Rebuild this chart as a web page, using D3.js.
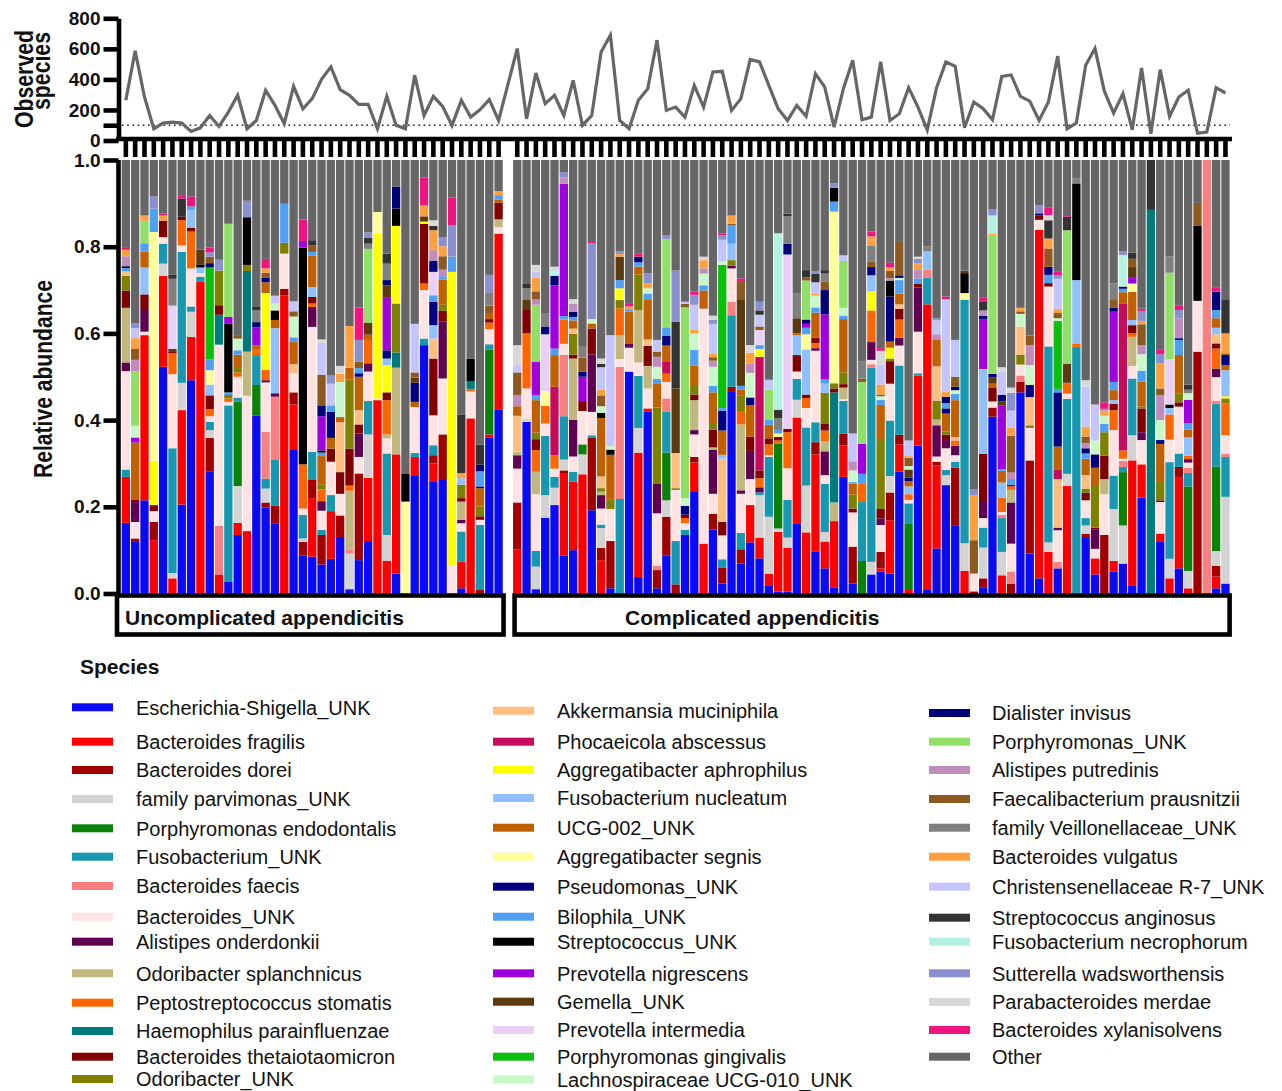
<!DOCTYPE html>
<html>
<head>
<meta charset="utf-8">
<script src="https://cdn.jsdelivr.net/npm/d3@7"></script>
<style>
  body { margin: 0; background: #fff; }
  text { font-family: "Liberation Sans", Arial, sans-serif; fill: #111; }
</style>
</head>
<body>
<svg id="chart" width="1282" height="1091"></svg>
<script>
// ---------------- DATA ----------------
const species = [
  "Escherichia-Shigella_UNK","Bacteroides fragilis","Bacteroides dorei","family parvimonas_UNK",
  "Porphyromonas endodontalis","Fusobacterium_UNK","Bacteroides faecis","Bacteroides_UNK",
  "Alistipes onderdonkii","Odoribacter splanchnicus","Peptostreptococcus stomatis","Haemophilus parainfluenzae",
  "Bacteroides thetaiotaomicron","Odoribacter_UNK","Akkermansia muciniphila","Phocaeicola abscessus",
  "Aggregatibacter aphrophilus","Fusobacterium nucleatum","UCG-002_UNK","Aggregatibacter segnis",
  "Pseudomonas_UNK","Bilophila_UNK","Streptococcus_UNK","Prevotella nigrescens",
  "Gemella_UNK","Prevotella intermedia","Porphyromonas gingivalis","Lachnospiraceae UCG-010_UNK",
  "Dialister invisus","Porphyromonas_UNK","Alistipes putredinis","Faecalibacterium prausnitzii",
  "family Veillonellaceae_UNK","Bacteroides vulgatus","Christensenellaceae R-7_UNK","Streptococcus anginosus",
  "Fusobacterium necrophorum","Sutterella wadsworthensis","Parabacteroides merdae","Bacteroides xylanisolvens",
  "Other"
];

const groupNames = ["Uncomplicated appendicitis", "Complicated appendicitis"];

const observedTicks = [0, 200, 400, 600, 800];
const abundanceTicks = [0, 0.2, 0.4, 0.6, 0.8, 1.0];
const detectionLine = 100;

// Observed species per sample
const observedUncomplicated = [263,587,285,77,114,120,114,59,83,164,92,186,296,77,131,329,230,110,355,208,
  274,401,482,333,296,237,237,77,289,99,77,427,164,289,223,99,263,153,201,267,131];
const observedComplicated = [602,142,442,241,296,164,394,99,164,580,690,131,77,263,339,657,197,219,153,361,
  219,449,453,197,274,530,515,361,208,131,230,158,438,350,88,339,526,136,153,515,
  131,175,346,219,70,346,515,486,83,252,208,136,420,429,289,258,131,252,552,77,
  114,493,602,324,180,307,70,475,44,464,158,285,329,48,55,346,311];

// Relative abundance per sample: {speciesIndex: value}; "Other" is the remainder to 1
const abundanceUncomplicated = [
  {0:.163,1:.106,5:.017,7:.227,8:.02,9:.126,12:.039,13:.035,14:.01,21:.008,22:.004,30:.023,33:.015,39:.006},
  {0:.119,2:.008,7:.038,8:.046,12:.006,18:.131,23:.012,27:.027,29:.125,30:.027,31:.025,33:.025,34:.023,37:.012},
  {0:.215,1:.381,7:.008,8:.05,12:.036,17:.062,18:.037,21:.019,29:.052,33:.012},
  {1:.123,2:.042,7:.025,12:.014,16:.102,19:.528,21:.054,37:.028},
  {0:.523,1:.21,3:.028,5:.046,7:.015,12:.038,33:.012,39:.004},
  {1:.035,3:.012,5:.288,7:.171,10:.048,12:.005,24:.005,25:.1,32:.062,35:.01},
  {0:.205,1:.218,3:.063,5:.302,7:.015,10:.058,12:.008,35:.042,39:.008},
  {0:.492,1:.1,3:.058,5:.012,7:.088,10:.085,12:.009,17:.041,21:.008,39:.023},
  {1:.719,5:.012,7:.008,17:.013,22:.006,24:.035},
  {0:.282,2:.077,3:.018,5:.019,7:.013,10:.016,12:.032,17:.025,19:.033,21:.025,26:.212,28:.01,31:.015,37:.01,39:.011},
  {1:.044,6:.112,7:.418,11:.069,12:.022,13:.08,37:.025},
  {0:.028,5:.406,7:.008,10:.008,13:.008,21:.006,22:.159,23:.015,29:.215},
  {0:.135,1:.028,3:.085,4:.195,5:.009,7:.048,10:.01,13:.01,18:.031,21:.01,27:.027,31:.008},
  {1:.144,7:.312,9:.102,11:.186,13:.014,22:.11,37:.038},
  {0:.41,4:.071,5:.069,10:.012,18:.01,23:.042,28:.012,32:.027,35:.008},
  {0:.198,2:.012,3:.032,5:.023,6:.108,7:.114,8:.005,10:.024,16:.177,18:.025,20:.01,31:.012,33:.01,39:.022},
  {0:.162,2:.041,5:.105,6:.146,8:.008,17:.15,18:.019,22:.022,27:.017,34:.017},
  {1:.688,2:.015,7:.081,13:.025,21:.09},
  {0:.331,1:.105,2:.028,7:.044,14:.021,18:.051,21:.011,27:.048,31:.012,34:.023},
  {0:.088,2:.031,3:.008,5:.054,7:.015,10:.102,22:.5,23:.015,39:.05},
  {0:.085,1:.135,2:.042,5:.065,7:.288,8:.046,10:.008,12:.015,17:.023,18:.073,21:.008,31:.015,35:.012},
  {0:.067,2:.068,5:.012,7:.044,8:.022,10:.027,13:.012,18:.065,21:.008,22:.005,23:.079,28:.025,31:.071,34:.073,38:.008},
  {0:.08,1:.11,5:.037,7:.077,12:.03,18:.025,20:.06,21:.015,34:.05,37:.02},
  {0:.128,2:.052,7:.05,12:.05,14:.115,18:.012,27:.081,33:.019,38:.018},
  {0:.01,3:.082,6:.01,9:.135,10:.012,12:.085,13:.16,18:.027,33:.096},
  {0:.077,2:.2,7:.038,8:.054,12:.021,14:.033,18:.077,20:.008,21:.012,31:.015,37:.05,39:.075},
  {0:.121,1:.146,3:.1,5:.077,7:.068,8:.019,10:.054,18:.012,24:.027,29:.171,32:.012,35:.013,37:.013},
  {1:.446,7:.004,16:.38,19:.05},
  {1:.075,3:.06,5:.188,7:.035,9:.009,10:.079,12:.018,16:.063,17:.015,20:.019,23:.121,24:.029,28:.012,32:.038,35:.023},
  {0:.046,1:.275,9:.2,11:.035,13:.113,16:.179,22:.04,28:.05},
  {19:.212,22:.065},
  {0:.273,1:.042,5:.009,7:.106,18:.012,20:.044,24:.012,31:.012,34:.112},
  {0:.573,5:.015,7:.112,10:.015,12:.138,16:.005,24:.012,33:.025,39:.065},
  {0:.259,1:.041,2:.019,5:.023,7:.069,12:.131,14:.046,17:.031,20:.054,21:.015,25:.054,28:.025,30:.025,33:.046,35:.01,38:.013},
  {0:.264,2:.103,7:.129,8:.131,12:.025,13:.014,18:.058,21:.008,30:.015,31:.031,33:.023,37:.021},
  {7:.065,16:.677,21:.035,37:.073,39:.063},
  {0:.012,1:.062,5:.069,7:.019,8:.008,9:.042,12:.008,13:.031,17:.015,33:.012,35:.135},
  {1:.404,7:.062,10:.006,11:.017,22:.053},
  {2:.008,5:.15,7:.012,12:.008,13:.023,18:.042,20:.004,21:.035,28:.015,35:.046},
  {0:.359,1:.008,4:.196,5:.012,7:.035,10:.015,12:.008,18:.012,31:.019,32:.031,37:.04},
  {0:.425,1:.405,7:.015,9:.018,12:.038,18:.008,21:.01,33:.009}
];

const abundanceComplicated = [
  {1:.102,2:.108,7:.078,8:.031,9:.008,14:.083,18:.022,30:.026,31:.052,34:.017,38:.046},
  {0:.396,3:.008,7:.069,10:.127,12:.054,24:.023,32:.027,35:.01},
  {0:.01,3:.052,5:.036,7:.131,9:.052,10:.05,12:.025,13:.015,18:.075,21:.012,23:.077,29:.131,30:.012,31:.019,33:.031,34:.015,38:.015},
  {0:.175,3:.052,5:.137,7:.028,10:.041,19:.034,25:.131,28:.018,32:.031},
  {0:.204,3:.04,5:.025,7:.019,10:.031,15:.158,18:.073,21:.015,23:.146,28:.022,36:.013,38:.008},
  {0:.088,1:.188,2:.008,3:.025,5:.1,6:.142,7:.025,10:.056,21:.008,23:.305,30:.015,37:.012},
  {0:.1,1:.158,5:.023,7:.035,8:.085,9:.141,12:.009,13:.048,14:.012,18:.019,21:.008,28:.012,30:.019,38:.01},
  {1:.275,3:.046,4:.023,7:.077,12:.023,23:.056,28:.012,31:.032,32:.025},
  {0:.192,2:.167,5:.006,7:.054,8:.132,12:.06,18:.012,27:.01,37:.175,39:.005},
  {1:.077,2:.028,3:.046,5:.008,7:.037,8:.031,9:.008,13:.008,14:.027,18:.135,22:.012,27:.015,31:.025,33:.013,34:.052,35:.008,38:.012},
  {0:.012,2:.109,7:.074,13:.021,18:.104,22:.012,27:.008,34:.256},
  {5:.218,6:.305,7:.018,9:.055,10:.062,13:.019,16:.027,21:.019,24:.054,33:.006,37:.006},
  {0:.512,7:.055,8:.01,18:.073,21:.006,33:.006,39:.006},
  {0:.038,1:.287,3:.057,5:.12,7:.031,9:.121,13:.082,18:.018,21:.01,28:.013,39:.008},
  {0:.419,1:.008,7:.046,9:.052,12:.046,14:.015,18:.091,21:.015,27:.012,33:.012,37:.023},
  {0:.012,2:.042,6:.01,7:.121,8:.069,13:.175,18:.056,21:.01,27:.028,30:.023,31:.012,34:.027},
  {0:.087,2:.09,3:.038,4:.11,5:.094,6:.031,7:.038,10:.019,15:.027,18:.038,20:.023,21:.019,29:.204,37:.009},
  {2:.021,5:.1,7:.118,13:.004,14:.081,24:.149,35:.154,37:.118},
  {0:.135,5:.012,7:.015,10:.012,12:.008,20:.02,27:.018,29:.44,31:.008,34:.005},
  {0:.236,1:.066,2:.013,7:.052,8:.01,9:.069,12:.013,13:.022,18:.045,21:.036,27:.038,33:.008,34:.058,37:.023,39:.008},
  {1:.115,7:.542,18:.042,21:.012,27:.027,30:.012,33:.019,38:.008},
  {0:.148,2:.036,7:.046,8:.102,9:.005,12:.041,13:.013,18:.073,21:.015,27:.044,30:.014,31:.008,33:.009,34:.068,37:.009,38:.01},
  {0:.023,2:.036,5:.02,7:.055,12:.031,14:.146,17:.009,18:.056,20:.046,21:.006,26:.33,27:.008,34:.05,37:.01,39:.005},
  {0:.465,2:.012,5:.165,6:.031,7:.077,8:.006,13:.013,17:.038,21:.042,31:.004,33:.019},
  {0:.069,2:.033,5:.038,7:.09,8:.008,9:.152,10:.029,13:.037,18:.015,21:.008,24:.2,31:.042,39:.006},
  {0:.118,1:.086,7:.06,8:.065,12:.033,18:.072,20:.017,21:.002,27:.056,30:.021,33:.025,38:.018},
  {0:.081,1:.048,3:.098,5:.006,8:.012,10:.021,12:.018,15:.262,16:.018,21:.009,25:.035,31:.008,34:.027,35:.01,37:.02},
  {0:.019,1:.027,3:.131,5:.138,7:.004,10:.025,12:.014,18:.031,21:.012,29:.069,34:.023},
  {0:.004,1:.138,3:.008,4:.195,10:.008,12:.008,19:.008,21:.008,32:.027,35:.02,36:.407},
  {0:.004,1:.102,3:.023,5:.087,7:.073,10:.083,12:.008,25:.402,28:.025,32:.063,35:.006},
  {0:.162,1:.244,3:.041,5:.048,7:.017,12:.038,17:.046,18:.004,24:.035,32:.058},
  {1:.141,3:.108,5:.134,7:.045,10:.023,12:.008,17:.104,19:.035,21:.015,23:.009,28:.01,29:.09,31:.007,35:.017},
  {0:.096,1:.225,2:.028,5:.046,7:.165,8:.006,10:.012,12:.012,18:.058,21:.012,27:.027,33:.004,34:.027,35:.019,37:.007},
  {0:.058,1:.062,3:.022,5:.111,7:.02,8:.055,9:.023,10:.025,12:.015,13:.072,17:.021,21:.01,23:.15,28:.056,31:.019,32:.019,35:.008},
  {0:.013,1:.154,9:.043,11:.254,12:.009,13:.012,19:.396,21:.023,22:.032,37:.01},
  {0:.269,1:.073,2:.027,5:.075,7:.004,9:.027,12:.008,13:.027,18:.123,21:.008,27:.018,29:.108,34:.013},
  {0:.023,2:.085,7:.079,12:.009,13:.032,18:.025,21:.004,27:.027,30:.021,34:.064},
  {4:.075,5:.136,10:.042,21:.023,23:.069,29:.143,31:.008,32:.04},
  {0:.044,3:.029,5:.448,6:.008,7:.01,8:.041,10:.073,16:.044,17:.037,20:.019,31:.012,32:.038,33:.021,39:.011},
  {0:.05,1:.008,2:.038,7:.062,8:.015,12:.022,13:.159,18:.081,21:.012,27:.008,31:.004,33:.023,34:.046,38:.032,39:.006},
  {0:.046,1:.123,2:.064,3:.038,5:.128,7:.085,12:.052,13:.006,16:.025,18:.014,20:.104,22:.037,30:.005,31:.017,33:.008,39:.011},
  {0:.281,1:.063,2:.022,5:.16,7:.046,8:.018,10:.042,12:.025,14:.01,18:.025,21:.031,27:.005,28:.006,31:.079},
  {1:.008,4:.154,5:.046,7:.008,10:.013,17:.018,18:.012,20:.008,24:.019,27:.008,31:.019,33:.004,34:.036},
  {0:.341,1:.162,5:.005,7:.096,8:.102,12:.008,21:.013,30:.021,33:.014,37:.01,38:.005},
  {0:.01,1:.657,5:.062,6:.018,17:.042,32:.012},
  {0:.104,1:.192,2:.008,7:.012,8:.072,9:.013,13:.044,14:.079,18:.062,30:.012,34:.032,37:.005},
  {0:.25,3:.023,5:.012,7:.05,8:.019,12:.012,13:.008,18:.041,20:.012,21:.012,28:.015,33:.012,34:.213,39:.006},
  {0:.156,2:.134,5:.014,7:.015,8:.022,10:.012,14:.008,18:.085,21:.015,27:.008,28:.008,31:.023,34:.085},
  {1:.052,3:.064,5:.562,19:.015,22:.046,24:.006},
  {2:.005,7:.041,31:.077,33:.104,37:.014},
  {0:.013,2:.022,3:.071,5:.046,7:.022,8:.037,12:.111,17:.196,23:.114,28:.009,30:.012,35:.021,39:.008},
  {0:.408,2:.021,7:.014,12:.031,18:.01,24:.015,28:.008,29:.319,33:.004,36:.042,37:.015},
  {1:.042,3:.054,5:.078,6:.008,7:.006,10:.033,17:.035,18:.027,21:.004,23:.146,24:.01,28:.015,34:.054,38:.01},
  {2:.023,6:.028,7:.064,8:.095,9:.029,10:.008,12:.004,21:.013,30:.015,31:.085,33:.018,34:.04,37:.041,38:.012},
  {0:.464,2:.025,6:.014,7:.025,13:.023,14:.065,27:.029,31:.006,33:.008},
  {0:.092,2:.215,7:.075,13:.006,14:.065,20:.028,27:.046,30:.046,31:.022},
  {0:.035,1:.804,7:.023,12:.01,28:.005,37:.019},
  {1:.096,3:.022,5:.452,7:.138,12:.008,21:.019,28:.019,31:.042,33:.023,35:.042,38:.012,39:.018},
  {0:.058,6:.015,7:.073,8:.006,14:.112,15:.021,18:.054,20:.125,21:.008,26:.157,27:.006,31:.012,33:.01,34:.069,37:.008,39:.008},
  {1:.248,3:.028,5:.173,7:.012,10:.023,18:.002,24:.044,29:.308,35:.031,39:.004},
  {5:.569,10:.008,17:.146,22:.223,32:.012},
  {0:.128,2:.01,3:.019,5:.017,7:.041,12:.017,13:.01,14:.031,18:.038,21:.012,28:.012,30:.012,31:.015,33:.023,34:.092,38:.015},
  {0:.044,1:.037,7:.022,8:.044,12:.005,13:.096,18:.042,20:.031,27:.032,34:.083},
  {2:.135,7:.094,9:.035,12:.054,13:.054,21:.019,27:.019,33:.012,37:.004,39:.015},
  {0:.05,1:.025,3:.12,5:.077,7:.105,10:.046,12:.015,17:.008,18:.023,21:.019,23:.162,28:.009,31:.02,32:.036},
  {0:.069,3:.088,4:.123,5:.012,6:.014,7:.005,10:.019,15:.338,18:.027,21:.008,28:.005,36:.073,37:.009},
  {0:.019,1:.288,3:.058,5:.131,7:.029,9:.067,10:.008,12:.019,17:.012,18:.065,19:.019,23:.015,24:.023,31:.019,35:.014},
  {0:.221,1:.077,7:.056,8:.018,12:.055,13:.004,18:.058,21:.025,27:.038,30:.021,31:.048,33:.008,37:.023,39:.005},
  {11:.885,35:.115},
  {0:.119,1:.019,7:.073,12:.004,13:.042,18:.088,20:.009,27:.046,30:.058,31:.015,33:.058,37:.021,39:.01},
  {1:.035,3:.045,5:.223,7:.052,10:.058,17:.015,22:.008,25:.104,29:.2,32:.038},
  {0:.058,1:.209,2:.025,5:.031,7:.108,12:.01,13:.021,18:.088,21:.035,28:.004,30:.046,37:.019,39:.011},
  {1:.012,3:.04,4:.195,5:.031,6:.012,7:.012,8:.008,10:.008,17:.042,18:.018,21:.015,23:.054,27:.015,32:.008,35:.012},
  {2:.558,7:.117,22:.174,31:.052},
  {6:1.0},
  {0:.012,1:.027,2:.025,3:.034,4:.195,5:.144,6:.008,7:.054,8:.02,10:.046,12:.012,14:.021,17:.015,18:.022,21:.019,28:.042,39:.009},
  {0:.023,3:.2,5:.092,6:.008,7:.042,10:.073,13:.012,16:.005,17:.06,18:.012,20:.023,31:.004,33:.046,35:.077}
];

// ---------------- STYLE ----------------
const speciesColors = [
  "#0a0af5","#ff0000","#a00000","#d3d3d3","#0a820a","#1898b0","#f88080","#ffe3e3",
  "#600050","#c2b87f","#ff6600","#007b7b","#800000","#808000","#ffbe80","#c80a5a",
  "#ffff00","#90c0ff","#c06000","#ffff99","#000080","#4f9ff5","#000000","#a000e0",
  "#5c3a10","#ead0f6","#0ac00a","#c8f8c8","#000078","#90e068","#c08cbe","#8c5a20",
  "#808080","#ffa040","#c4c4ff","#333333","#b3f2e0","#8a8fcf","#d8d8d8","#f0147f",
  "#666666"
];

// ---------------- LAYOUT ----------------
const svg = d3.select("#chart");

const uSamples = abundanceUncomplicated.map((c, i) => ({ id: "U" + (i + 1), comp: c, obs: observedUncomplicated[i] }));
const cSamples = abundanceComplicated.map((c, i) => ({ id: "C" + (i + 1), comp: c, obs: observedComplicated[i] }));
const samples = uSamples.concat(cSamples);
const slots = uSamples.map(d => d.id).concat(["gap"], cSamples.map(d => d.id));

const x = d3.scaleBand().domain(slots).range([121.7, 1229.6]).paddingInner(0.109).paddingOuter(0);
const bw = x.bandwidth();
const yObs = d3.scaleLinear().domain([0, 800]).range([140.5, 18.3]);
const yAb = d3.scaleLinear().domain([0, 1]).range([593.5, 160]);

// stacked data
const keys = d3.range(species.length);
const otherKey = species.length - 1;
const rows = samples.map(s => {
  const r = { id: s.id };
  let sum = 0;
  keys.forEach(k => {
    if (k !== otherKey) { r[k] = s.comp[k] || 0; sum += r[k]; }
  });
  r[otherKey] = Math.max(0, 1 - sum);
  return r;
});
const series = d3.stack().keys(keys)(rows);

// bars
svg.append("g").selectAll("g").data(series).join("g")
  .attr("fill", d => speciesColors[d.key])
  .selectAll("rect").data(d => d.filter(p => p[1] - p[0] > 1e-6)).join("rect")
  .attr("x", p => x(p.data.id))
  .attr("y", p => yAb(p[1]))
  .attr("width", bw)
  .attr("height", p => yAb(p[0]) - yAb(p[1]));

// ---------------- TOP PANEL ----------------
svg.append("line")
  .attr("x1", 122).attr("x2", 1230)
  .attr("y1", yObs(detectionLine)).attr("y2", yObs(detectionLine))
  .attr("stroke", "#222").attr("stroke-width", 1.6).attr("stroke-dasharray", "1.6,3.6");

svg.append("path").datum(samples)
  .attr("d", d3.line().x(d => x(d.id) + bw / 2).y(d => yObs(d.obs)))
  .attr("fill", "none").attr("stroke", "#666").attr("stroke-width", 3.2).attr("stroke-linejoin", "miter");

const gxTicks = svg.append("g").attr("transform", "translate(0,141)")
  .call(d3.axisBottom(x).tickValues(samples.map(d => d.id)).tickSize(16).tickFormat(""));
gxTicks.select(".domain").remove();
gxTicks.selectAll(".tick line").attr("stroke", "#000").attr("stroke-width", 4.6);
svg.append("line").attr("x1", 116).attr("x2", 1232).attr("y1", 139).attr("y2", 139)
  .attr("stroke", "#000").attr("stroke-width", 4.6);

function styleYAxis(g) {
  g.select(".domain").attr("stroke", "#000").attr("stroke-width", 4.6);
  g.selectAll(".tick line").attr("stroke", "#000").attr("stroke-width", 4.6);
  g.selectAll(".tick text").attr("font-size", 19).attr("font-weight", "bold").style("font-family", '"Liberation Sans", Arial, sans-serif').attr("fill", "#111");
}

const gyObs = svg.append("g").attr("transform", "translate(118.5,0)")
  .call(d3.axisLeft(yObs).tickValues(observedTicks).tickSize(15).tickSizeOuter(0).tickPadding(3).tickFormat(d3.format("d")));
styleYAxis(gyObs);
const gyObsMinor = svg.append("g").attr("transform", "translate(118.5,0)")
  .call(d3.axisLeft(yObs).tickValues([detectionLine]).tickSize(15).tickSizeOuter(0).tickFormat(""));
gyObsMinor.select(".domain").remove();
gyObsMinor.selectAll(".tick line").attr("stroke", "#000").attr("stroke-width", 4.6);

// ---------------- MAIN PANEL AXIS ----------------
const gyAb = svg.append("g").attr("transform", "translate(118.5,0)")
  .call(d3.axisLeft(yAb).tickValues(abundanceTicks).tickSize(15).tickSizeOuter(0).tickPadding(3).tickFormat(d3.format(".1f")));
gyAb.select(".domain").attr("d", `M0,${yAb(0) + 2}V${yAb(1)}`);
styleYAxis(gyAb);

function vTitle(txt, cx, cy, len) {
  svg.append("text").attr("transform", `translate(${cx},${cy}) rotate(-90)`)
    .attr("text-anchor", "middle").attr("font-size", 26).attr("font-weight", "bold")
    .attr("textLength", len).attr("lengthAdjust", "spacingAndGlyphs").text(txt);
}
vTitle("Observed", 32.5, 79, 98);
vTitle("species", 50, 71, 78);
vTitle("Relative abundance", 52, 379, 198);

// ---------------- GROUP BOXES ----------------
const boxes = [
  { x0: x(uSamples[0].id) - 4.7, x1: x(uSamples[uSamples.length - 1].id) + bw + 0.8, label: groupNames[0], tx: 125 },
  { x0: x(cSamples[0].id) + 1.5, x1: x(cSamples[cSamples.length - 1].id) + bw, label: groupNames[1], tx: 625 }
];
boxes.forEach(b => {
  svg.append("rect").attr("x", b.x0).attr("y", 595.5).attr("width", b.x1 - b.x0).attr("height", 39)
    .attr("fill", "none").attr("stroke", "#000").attr("stroke-width", 4.6);
  svg.append("text").attr("x", b.tx).attr("y", 625).attr("font-size", 21).attr("font-weight", "bold").text(b.label);
});

// ---------------- LEGEND ----------------
svg.append("text").attr("x", 80).attr("y", 674).attr("font-size", 21).attr("font-weight", "bold").text("Species");

const legendCols = [
  { sx: 72, tx: 136, start: 0, rowsY: [707.3, 741.7, 770, 799, 828.3, 856.7, 886, 916.7, 941.7, 973.3, 1002.7, 1031, 1056.7, 1079] },
  { sx: 493, tx: 557, start: 14, rowsY: [710.7, 741.7, 770, 798, 827.7, 856.7, 886.7, 916.7, 941.7, 973.3, 1001.7, 1030, 1056.7, 1079.5] },
  { sx: 929, tx: 992, start: 28, rowsY: [713, 741.7, 770, 799, 827.7, 856.7, 886.7, 917.7, 941.7, 973.3, 1002, 1030, 1056.7] }
];
legendCols.forEach(col => {
  col.rowsY.forEach((ry, j) => {
    const k = col.start + j;
    svg.append("rect").attr("x", col.sx).attr("y", ry - 4).attr("width", 41).attr("height", 8).attr("fill", speciesColors[k]);
    svg.append("text").attr("x", col.tx).attr("y", ry + 7.2).attr("font-size", 20).text(species[k]);
  });
});
</script>
</body>
</html>
